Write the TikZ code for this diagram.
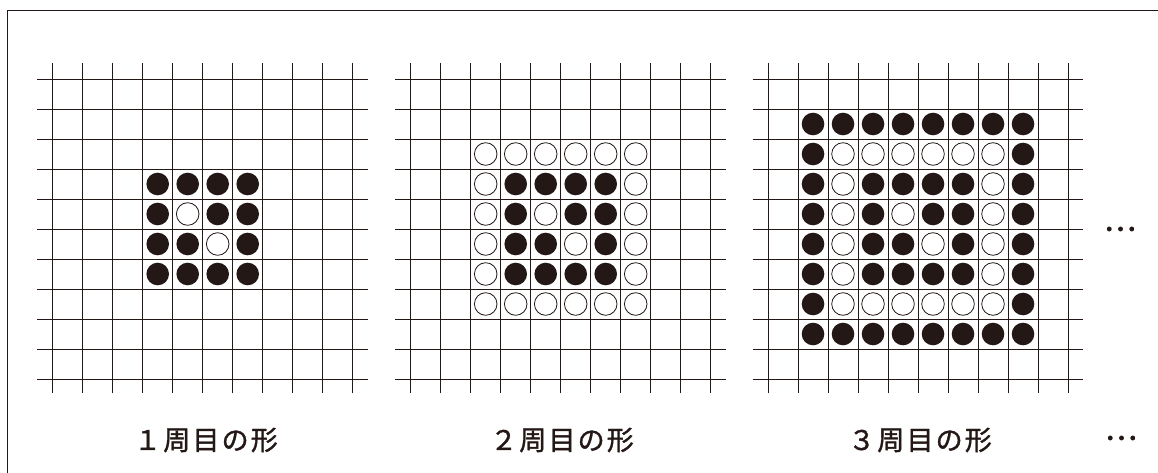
\documentclass[tikz,border=0pt]{standalone}
\usepackage{fontspec}
\newfontfamily\jp[LetterSpace=8,FakeBold=1.3]{Noto Sans CJK JP}
\newfontfamily\jpd[FakeBold=2.5]{Noto Sans CJK JP}
\definecolor{ink}{HTML}{231815}
\begin{document}
\begin{tikzpicture}[x=1pt,y=-1pt,
  gridline/.style={draw=ink,line width=0.9pt},
  s1/.style={fill=ink},
  s0/.style={draw=ink,fill=white,line width=0.8pt},
  label/.style={font=\jp\fontsize{27}{27}\selectfont,text=ink,inner sep=0pt},
  dots/.style={font=\jpd\fontsize{30}{30}\selectfont,text=ink,inner sep=0pt},
  frame/.style={draw=ink,line width=1pt}]
\useasboundingbox (0,0) rectangle (1158,473);
\draw[frame] (1158,11) -- (7,11) -- (7,473);
% grids
\foreach \gx in {52.7,410.7,768}{
  \foreach \k in {0,...,10}{
    \draw[gridline] (\gx+30*\k,79-15.7) -- (\gx+30*\k,379+14.3);
    \draw[gridline] (\gx-15.4,79+30*\k) -- (\gx+315,79+30*\k);
  }
}
% grid 1 stones (cells 3..6)
\foreach \rowv [count=\r from 0] in {{1,1,1,1},{1,0,1,1},{1,1,0,1},{1,1,1,1}}{
  \foreach \v [count=\c from 0] in \rowv {
    \path[s\v] (52.7+30*3+30*\c+15,79+30*3+30*\r+15) circle[radius=11.3pt];
  }
}
% grid 2 stones (cells 2..7)
\foreach \rowv [count=\r from 0] in {{0,0,0,0,0,0},{0,1,1,1,1,0},{0,1,0,1,1,0},{0,1,1,0,1,0},{0,1,1,1,1,0},{0,0,0,0,0,0}}{
  \foreach \v [count=\c from 0] in \rowv {
    \path[s\v] (410.7+30*2+30*\c+15,79+30*2+30*\r+15) circle[radius=11.3pt];
  }
}
% grid 3 stones (cells 1..8)
\foreach \rowv [count=\r from 0] in {{1,1,1,1,1,1,1,1},{1,0,0,0,0,0,0,1},{1,0,1,1,1,1,0,1},{1,0,1,0,1,1,0,1},{1,0,1,1,0,1,0,1},{1,0,1,1,1,1,0,1},{1,0,0,0,0,0,0,1},{1,1,1,1,1,1,1,1}}{
  \foreach \v [count=\c from 0] in \rowv {
    \path[s\v] (768+30*1+30*\c+15,79+30*1+30*\r+15) circle[radius=11.3pt];
  }
}
\node[label] (l1) at (206,440) {１周目の形};
\node[label] (l2) at (562,440) {２周目の形};
\node[label] (l3) at (920,440) {３周目の形};
\node[dots] (d1) at (1120,229) {…};
\node[dots] (d2) at (1121,438) {…};
\end{tikzpicture}
\end{document}
